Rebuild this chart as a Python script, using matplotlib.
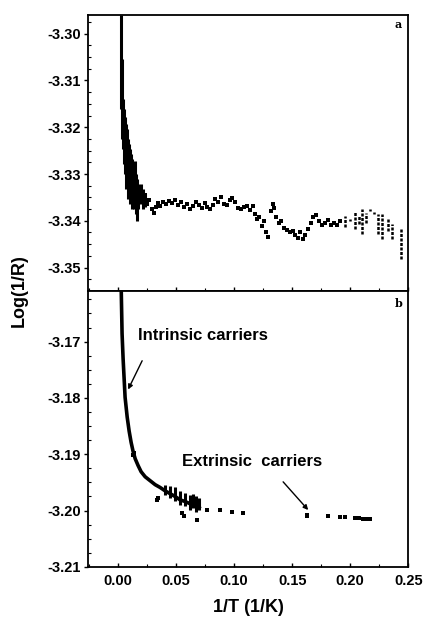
import matplotlib
matplotlib.use('Agg')
import matplotlib.pyplot as plt
from matplotlib.ticker import MultipleLocator, FormatStrFormatter

plt.rcParams['font.family'] = ['Liberation Sans', 'DejaVu Sans']
plt.rcParams['font.weight'] = 'bold'

# ---- panel a: dense band near the origin (x, ymin, ymax)
aBandX = [0.0026, 0.0034, 0.0043, 0.0052, 0.0060, 0.0069, 0.0078, 0.0086, 0.0095,
          0.0103, 0.0112, 0.0121, 0.0129, 0.0138, 0.0147, 0.0155, 0.0164, 0.0172,
          0.0190, 0.0198, 0.0216, 0.0233]
aBandLo = [-3.3162, -3.3226, -3.3247, -3.3279, -3.3300, -3.3332, -3.3321, -3.3353, -3.3343,
           -3.3364, -3.3353, -3.3374, -3.3364, -3.3374, -3.3353, -3.3385, -3.3400, -3.3374,
           -3.3364, -3.3353, -3.3374, -3.3370]
aBandHi = [-3.2960, -3.3055, -3.3140, -3.3162, -3.3179, -3.3194, -3.3204, -3.3226, -3.3236,
           -3.3247, -3.3257, -3.3268, -3.3279, -3.3289, -3.3272, -3.3300, -3.3311, -3.3321,
           -3.3332, -3.3321, -3.3332, -3.3343]

# ---- panel a: scattered points
aX = [0.0216, 0.0233, 0.0250, 0.0267, 0.0293, 0.0310, 0.0328, 0.0345, 0.0362, 0.0388,
      0.0414, 0.0440, 0.0466, 0.0491, 0.0517, 0.0543, 0.0569, 0.0595, 0.0621, 0.0647,
      0.0672, 0.0698, 0.0724, 0.0750, 0.0767, 0.0793, 0.0819, 0.0836, 0.0862, 0.0888,
      0.0914, 0.0940, 0.0966, 0.0983, 0.1009, 0.1034, 0.1060, 0.1086, 0.1112, 0.1138,
      0.1164, 0.1181, 0.1198, 0.1216, 0.1241, 0.1259, 0.1276, 0.1293, 0.1319, 0.1336,
      0.1345, 0.1362, 0.1388, 0.1405, 0.1431, 0.1457, 0.1483, 0.1509, 0.1526, 0.1552,
      0.1569, 0.1595, 0.1612, 0.1638, 0.1664, 0.1681, 0.1707, 0.1733, 0.1759, 0.1784,
      0.1810, 0.1836, 0.1862, 0.1888, 0.1914]
aY = [-3.3353, -3.3345, -3.3364, -3.3355, -3.3374, -3.3383, -3.3370, -3.3362, -3.3368, -3.3359,
      -3.3364, -3.3357, -3.3362, -3.3355, -3.3366, -3.3359, -3.3370, -3.3364, -3.3374, -3.3368,
      -3.3359, -3.3366, -3.3372, -3.3362, -3.3370, -3.3374, -3.3366, -3.3353, -3.3359, -3.3349,
      -3.3364, -3.3366, -3.3355, -3.3351, -3.3359, -3.3372, -3.3374, -3.3370, -3.3368, -3.3376,
      -3.3368, -3.3385, -3.3396, -3.3391, -3.3411, -3.3400, -3.3423, -3.3434, -3.3379, -3.3364,
      -3.3372, -3.3391, -3.3404, -3.3400, -3.3415, -3.3419, -3.3425, -3.3421, -3.3430, -3.3436,
      -3.3423, -3.3438, -3.3430, -3.3417, -3.3404, -3.3391, -3.3387, -3.3400, -3.3408, -3.3404,
      -3.3398, -3.3408, -3.3404, -3.3410, -3.3400]

# ---- panel a: vertical spreads at low temperature (x, ymin, ymax)
aBarX = [0.1957, 0.2000, 0.2043, 0.2078, 0.2103, 0.2138, 0.2172, 0.2207, 0.2241, 0.2276,
         0.2328, 0.2362, 0.2440]
aBarLo = [-3.3413, -3.3400, -3.3417, -3.3406, -3.3428, -3.3404, -3.3379, -3.3385, -3.3428,
          -3.3438, -3.3421, -3.3438, -3.3481]
aBarHi = [-3.3389, -3.3396, -3.3379, -3.3387, -3.3374, -3.3383, -3.3374, -3.3381, -3.3385,
          -3.3385, -3.3396, -3.3406, -3.3415]

# ---- panel b: main curve
bX = [0.0026, 0.0034, 0.0043, 0.0052, 0.0060, 0.0078, 0.0095, 0.0112, 0.0129, 0.0147,
      0.0172, 0.0198, 0.0233, 0.0276, 0.0319, 0.0362, 0.0405, 0.0448, 0.0491, 0.0534,
      0.0578, 0.0621, 0.0664, 0.0698]
bY = [-3.1600, -3.1686, -3.1731, -3.1767, -3.1799, -3.1834, -3.1859, -3.1879, -3.1895, -3.1908,
      -3.1920, -3.1931, -3.1940, -3.1947, -3.1954, -3.1959, -3.1965, -3.1970, -3.1975, -3.1981,
      -3.1984, -3.1988, -3.1991, -3.1995]

# ---- panel b: noisy spread at the end of the curve (x, ymin, ymax)
bBandX = [0.0405, 0.0448, 0.0491, 0.0534, 0.0578, 0.0621, 0.0647, 0.0672, 0.0698]
bBandLo = [-3.1972, -3.1977, -3.1983, -3.1990, -3.1992, -3.1999, -3.1995, -3.2002, -3.1999]
bBandHi = [-3.1954, -3.1956, -3.1959, -3.1965, -3.1968, -3.1972, -3.1970, -3.1975, -3.1977]

# ---- panel b: scattered points
bPtX = [0.0129, 0.0138, 0.0336, 0.0345, 0.0552, 0.0569, 0.0681, 0.0767, 0.0879, 0.0983,
        0.1078, 0.1629, 0.1629, 0.1810, 0.1914, 0.1957, 0.2043, 0.2078, 0.2112, 0.2147,
        0.2172]
bPtY = [-3.1901, -3.1897, -3.1981, -3.1977, -3.2004, -3.2009, -3.2017, -3.1999, -3.1999, -3.2002,
        -3.2004, -3.2008, -3.2009, -3.2009, -3.2011, -3.2011, -3.2013, -3.2013, -3.2015, -3.2015,
        -3.2015]

fig, (axA, axB) = plt.subplots(2, 1, sharex=True, figsize=(4.27, 6.25), dpi=100)
fig.subplots_adjust(left=0.206, right=0.956, top=0.976, bottom=0.093, hspace=0)

# panel a
axA.vlines(aBandX, aBandLo, aBandHi, colors='k', linewidth=2.2)
axA.scatter(aX, aY, s=6, marker='s', color='k', linewidths=0)
axA.vlines(aBarX, aBarLo, aBarHi, colors='k', linewidth=1.8, linestyles=(0, (1.2, 0.6)))
axA.set_ylim(-3.355, -3.296)
axA.yaxis.set_major_locator(MultipleLocator(0.01))
axA.yaxis.set_minor_locator(MultipleLocator(0.0025))
axA.text(0.2414, -3.2981, 'a', family='DejaVu Serif', fontsize=8, ha='center', va='center')

# panel b
axB.plot(bX, bY, color='k', linewidth=2.6)
axB.vlines(bBandX, bBandLo, bBandHi, colors='k', linewidth=2.2)
axB.scatter(bPtX, bPtY, s=5, marker='s', color='k', linewidths=0)
axB.set_ylim(-3.21, -3.161)
axB.yaxis.set_major_locator(MultipleLocator(0.01))
axB.yaxis.set_minor_locator(MultipleLocator(0.0025))
axB.text(0.2414, -3.1632, 'b', family='DejaVu Serif', fontsize=8, ha='center', va='center')

arrow = dict(arrowstyle='-|>', color='k', lw=1.0, shrinkA=0, shrinkB=0, mutation_scale=7)
axB.text(0.0172, -3.1690, 'Intrinsic carriers', fontsize=12, fontweight='bold',
         va='center', ha='left')
axB.annotate('', xy=(0.0086, -3.1785), xytext=(0.0207, -3.1734), arrowprops=arrow)
axB.text(0.0552, -3.1913, 'Extrinsic  carriers', fontsize=12, fontweight='bold',
         va='center', ha='left')
axB.annotate('', xy=(0.1638, -3.1999), xytext=(0.1422, -3.1949), arrowprops=arrow)

axB.set_xlim(-0.026, 0.25)
axB.xaxis.set_major_locator(MultipleLocator(0.05))
axB.xaxis.set_minor_locator(MultipleLocator(0.025))
axB.set_xlabel('1/T (1/K)', fontsize=13, fontweight='bold', labelpad=8)
fig.text(0.045, 0.535, 'Log(1/R)', rotation=90, fontsize=13, fontweight='bold',
         ha='center', va='center')

for ax in (axA, axB):
    for sp in ax.spines.values():
        sp.set_linewidth(1.3)
    ax.tick_params(axis='y', which='major', direction='out', length=3, width=1, labelsize=10.5, pad=2)
    ax.tick_params(axis='y', which='minor', direction='in', length=2, width=0.8)
    ax.tick_params(axis='x', which='major', direction='in', length=3, width=1, labelsize=10.5, pad=5)
    ax.tick_params(axis='x', which='minor', direction='in', length=2, width=0.8)
    ax.yaxis.set_major_formatter(FormatStrFormatter('%.2f'))
    ax.xaxis.set_major_formatter(FormatStrFormatter('%.2f'))
    for lab in ax.get_xticklabels() + ax.get_yticklabels():
        lab.set_fontweight('bold')

fig.savefig('out.png', dpi=100)
